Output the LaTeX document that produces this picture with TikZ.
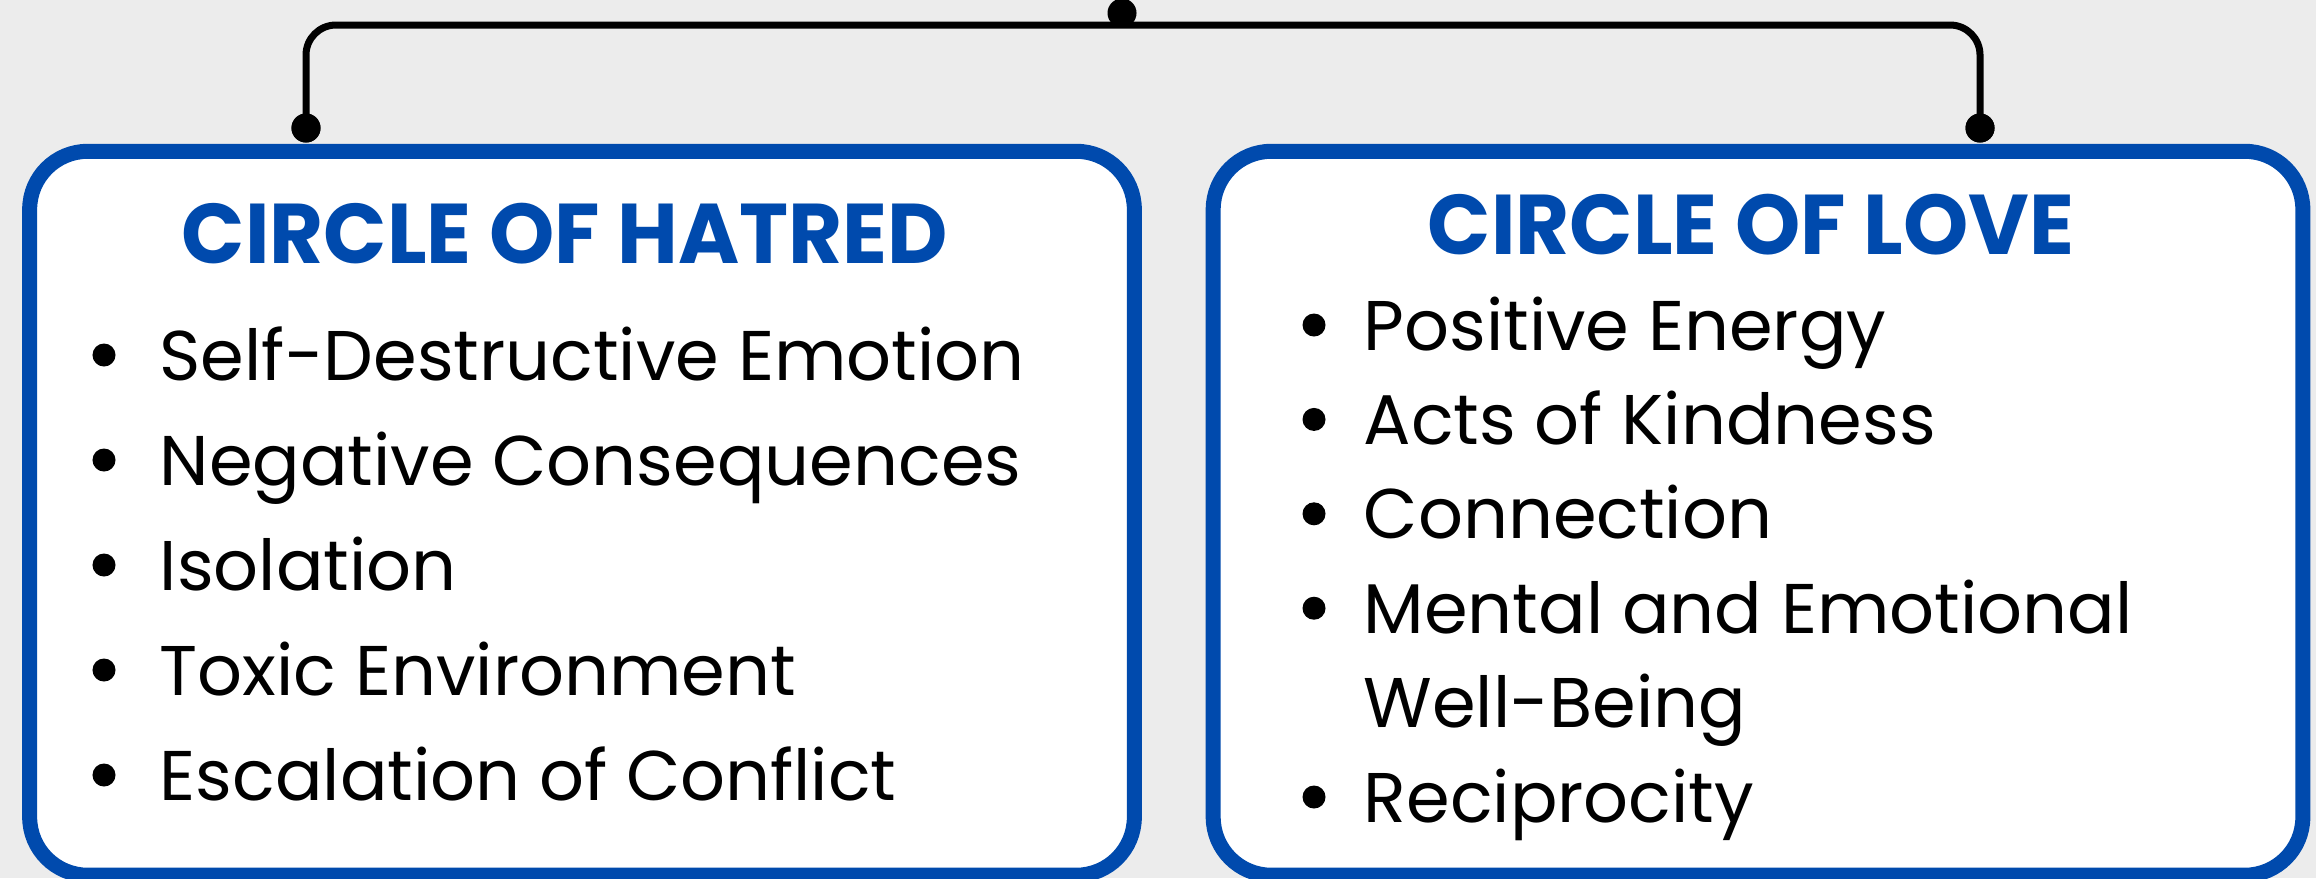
\documentclass[tikz,border=0pt]{standalone}
\usepackage{fontspec}
\setmainfont{Poppins}
\definecolor{boxblue}{RGB}{0,74,173}
\definecolor{bg}{RGB}{236,236,236}
\begin{document}
\begin{tikzpicture}[x=0.01cm,y=-0.01cm,
  box/.style={draw=boxblue,fill=white,line width=0.15cm,rounded corners=0.58cm,inner sep=0pt},
  dot/.style={circle,fill=black,inner sep=0pt,minimum size=0.29cm},
  link/.style={line width=0.07cm,rounded corners=0.3cm},
  ttl/.style={anchor=base,inner sep=0pt,text=boxblue,font=\fontsize{24.1pt}{28pt}\selectfont\bfseries\addfontfeatures{FakeStretch=0.98}},
  itm/.style={anchor=base west,inner sep=0pt,font=\fontsize{20pt}{24pt}\selectfont},
  bul/.style={circle,fill=black,inner sep=0pt,minimum size=0.23cm}]
\fill[bg] (0,0) rectangle (2316,878);
\useasboundingbox (0,0) rectangle (2316,878);
% boxes
\node[box,minimum width=11.04cm,minimum height=7.235cm] (hatred) at (582,513.25) {};
\node[box,minimum width=10.89cm,minimum height=7.235cm] (love) at (1758,513.25) {};
% connector
\coordinate (bus) at (1122,25);
\node[dot] (ldot) at (306,128) {};
\node[dot] (rdot) at (1980,128) {};
\node[dot] (tdot) at (1122,13) {};
\draw[link] (ldot.center) |- (bus) -| (rdot.center);
\node[dot] at (ldot) {};
\node[dot] at (rdot) {};
% titles
\node[ttl] (t1) at (565,263) {CIRCLE OF HATRED};
\node[ttl] (t2) at (1751,254) {CIRCLE OF LOVE};
% left items
\foreach \t [count=\i from 0] in {Self-Destructive Emotion,Negative Consequences,Isolation,Toxic Environment,Escalation of Conflict}{
  \node[itm] (h\i) at (159,{380+105*\i}) {\t};
  \node[bul] (hb\i) at (104,{355+105*\i}) {};
}
% right items
\foreach \t/\b [count=\i from 0] in {Positive Energy/1,Acts of Kindness/1,Connection/1,Mental and Emotional/1,Well-Being/0,Reciprocity/1}{
  \node[itm] (l\i) at (1363,{350+94.4*\i}) {\t};
  \ifnum\b=1 \node[bul] (lb\i) at (1314,{325+94.4*\i}) {};\fi
}
\end{tikzpicture}
\end{document}
